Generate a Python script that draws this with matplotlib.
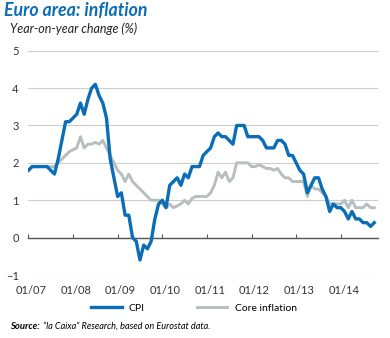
import numpy as np
import matplotlib
matplotlib.use("Agg")
import matplotlib.pyplot as plt
from matplotlib.transforms import ScaledTranslation

plt.rcParams['font.family'] = ['Lato', 'DejaVu Sans']

# monthly data, Jan 2007 - Oct 2014
cpi = [1.8, 1.9, 1.9, 1.9, 1.9, 1.9, 1.8, 1.7, 2.1, 2.6, 3.1, 3.1,
       3.2, 3.3, 3.6, 3.3, 3.7, 4.0, 4.1, 3.8, 3.6, 3.2, 2.1, 1.6,
       1.1, 1.2, 0.6, 0.6, 0.0, -0.1, -0.6, -0.2, -0.3, -0.1, 0.5, 0.9,
       1.0, 0.8, 1.4, 1.5, 1.6, 1.4, 1.7, 1.6, 1.9, 1.9, 1.9, 2.2,
       2.3, 2.4, 2.7, 2.8, 2.7, 2.7, 2.6, 2.5, 3.0, 3.0, 3.0, 2.7,
       2.7, 2.7, 2.7, 2.6, 2.4, 2.4, 2.4, 2.6, 2.6, 2.5, 2.2, 2.2,
       2.0, 1.8, 1.7, 1.2, 1.4, 1.6, 1.6, 1.3, 1.1, 0.7, 0.9, 0.8,
       0.8, 0.7, 0.5, 0.7, 0.5, 0.5, 0.4, 0.4, 0.3, 0.4]
core = [1.8, 1.9, 1.9, 1.9, 1.9, 1.9, 1.9, 1.9, 2.0, 2.1, 2.2, 2.3,
        2.35, 2.4, 2.7, 2.4, 2.5, 2.5, 2.55, 2.5, 2.6, 2.4, 2.2, 2.0,
        1.8, 1.7, 1.5, 1.7, 1.5, 1.4, 1.3, 1.2, 1.1, 1.0, 1.0, 1.0,
        0.9, 0.8, 0.9, 0.8, 0.85, 0.9, 1.0, 0.9, 1.05, 1.1, 1.1, 1.1,
        1.1, 1.2, 1.4, 1.75, 1.6, 1.75, 1.5, 1.6, 2.0, 2.0, 2.0, 2.0,
        1.9, 1.9, 1.95, 1.9, 1.85, 1.85, 1.8, 1.85, 1.7, 1.6, 1.6, 1.5,
        1.5, 1.5, 1.5, 1.1, 1.4, 1.3, 1.3, 1.2, 1.1, 0.9, 0.9, 0.9,
        0.9, 1.0, 0.8, 1.0, 0.8, 0.8, 0.8, 0.9, 0.8, 0.8]
year_labels = ['01/07', '01/08', '01/09', '01/10', '01/11', '01/12', '01/13', '01/14']

months = np.arange(len(cpi))
year_pos = np.arange(len(year_labels)) * 12

blue = '#0b6db7'
grey = '#b6bec0'

fig = plt.figure(figsize=(3.9, 3.38), dpi=100)
ax = fig.add_axes([28.4 / 390, 63 / 338, (378 - 28.4) / 390, (275 - 50.7) / 338])

ax.plot(months, core, color=grey, lw=2.1, label='Core inflation', zorder=3)
ax.plot(months, cpi, color=blue, lw=2.4, label='CPI', zorder=4)

ax.set_xlim(0, 94)
ax.set_ylim(-1, 5)
ax.set_yticks(range(-1, 6))
ax.yaxis.grid(True, color='#cccccc', lw=0.8)
ax.tick_params(axis='y', length=0, pad=7, labelsize=8, labelcolor='#333333')
for s in ['top', 'right', 'left']:
    ax.spines[s].set_visible(False)
ax.spines['bottom'].set_position(('data', 0))
ax.spines['bottom'].set_color('#555555')
ax.spines['bottom'].set_linewidth(1.0)
ax.set_xticks(year_pos)
ax.tick_params(axis='x', direction='in', length=3, color='#555555', labelbottom=False)

sec = ax.secondary_xaxis('bottom')
sec.set_xticks(year_pos)
sec.set_xticklabels(year_labels)
sec.tick_params(length=0, pad=7, labelsize=8, labelcolor='#333333')
sec.spines['bottom'].set_visible(False)
off = ScaledTranslation(3 / 100, 0, fig.dpi_scale_trans)
for lbl in sec.get_xticklabels():
    lbl.set_transform(lbl.get_transform() + off)

h, l = ax.get_legend_handles_labels()
fig.legend(h[::-1], l[::-1], loc='center', bbox_to_anchor=(194 / 390, 1 - 308 / 338),
           ncol=2, frameon=False, fontsize=7.5, handlelength=2.9,
           handletextpad=0.7, columnspacing=5.0)

fig.text(4 / 390, 1 - 11 / 338, 'Euro area: inflation', color=blue, fontsize=12.8,
         fontweight='bold', style='italic', va='center')
fig.text(10 / 390, 1 - 29 / 338, 'Year-on-year change (%)', color='#222222', fontsize=9,
         style='italic', va='center')
src = fig.text(10 / 390, 1 - 329 / 338, 'Source:', fontsize=6.8, fontweight='bold',
               style='italic', va='baseline')
fig.text(0, 0, '\u201cla Caixa\u201d Research, based on Eurostat data.', fontsize=6.6,
         style='italic', va='baseline',
         transform=src.get_transform() + ScaledTranslation(0, 0, fig.dpi_scale_trans))
fig.canvas.draw()
bb = src.get_window_extent()
fig.texts[-1].set_position(((bb.x1 + 3) / 390 / 1.0, 1 - 329 / 338))
fig.texts[-1].set_transform(fig.transFigure)

fig.savefig('out.png', dpi=100)
